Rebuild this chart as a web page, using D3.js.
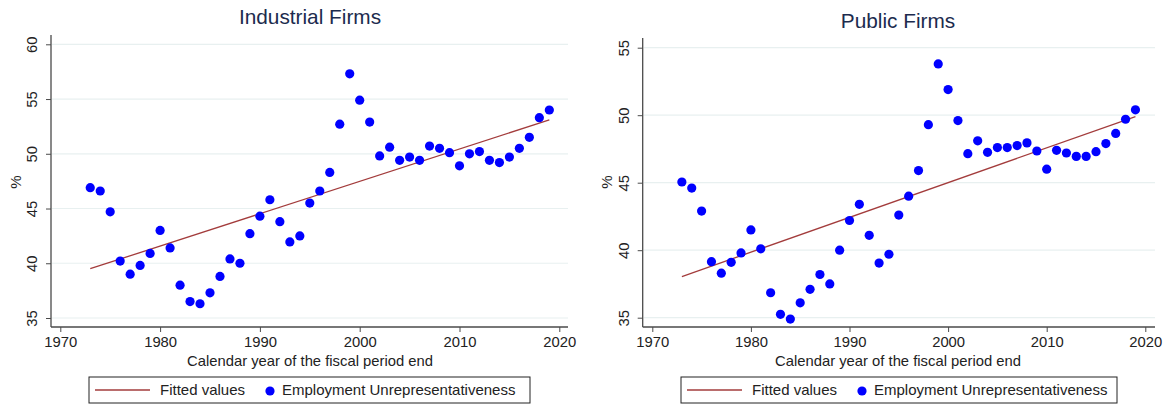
<!DOCTYPE html>
<html lang="en">
<head>
<meta charset="UTF-8">
<script src="https://d3js.org/d3.v7.min.js"></script>
<title>Employment unrepresentativeness</title>
<style>
    body { margin: 0; background: #fff; }
    text { font-family: "Liberation Sans", Arial, sans-serif; }
</style>
</head>
<body>
<div id="chart"></div>
<script>
    // Data
    const years = d3.range(1973, 2020);

    const industrial = [46.9, 46.6, 44.7, 40.2, 39.0, 39.8, 40.9, 43.0, 41.4, 38.0,
        36.5, 36.3, 37.3, 38.8, 40.4, 40.0, 42.7, 44.3, 45.8, 43.8,
        41.95, 42.5, 45.5, 46.6, 48.3, 52.7, 57.3, 54.9, 52.9, 49.8,
        50.6, 49.4, 49.7, 49.4, 50.7, 50.5, 50.1, 48.9, 50.0, 50.2,
        49.4, 49.2, 49.7, 50.5, 51.5, 53.3, 54.0];

    const publicFirms = [45.05, 44.6, 42.9, 39.15, 38.3, 39.1, 39.8, 41.5, 40.1, 36.85,
        35.25, 34.9, 36.1, 37.1, 38.2, 37.5, 40.0, 42.2, 43.4, 41.1,
        39.05, 39.7, 42.6, 44.0, 45.9, 49.3, 53.8, 51.9, 49.6, 47.15,
        48.1, 47.25, 47.6, 47.6, 47.75, 47.95, 47.35, 46.0, 47.4, 47.2,
        46.95, 46.95, 47.3, 47.9, 48.65, 49.7, 50.4];

    // fitted line endpoints [year, value]
    const industrialFit = [[1973, 39.5], [2019, 53.1]];
    const publicFit = [[1973, 38.05], [2019, 49.9]];

    const xTicks = [1970, 1980, 1990, 2000, 2010, 2020];
    const industrialYTicks = [35, 40, 45, 50, 55, 60];
    const publicYTicks = [35, 40, 45, 50, 55];

    const width = 1168, height = 405;

    const svg = d3.select("#chart").append("svg")
        .attr("width", width)
        .attr("height", height);

    const axisColor = "#4a4a4a";
    const gridColor = "#e8f0f0";
    const dotColor = "#0000ff";
    const fitColor = "#a33c3c";

    function drawPanel(cfg) {
        const g = svg.append("g");
        const x = d3.scaleLinear().domain([1970, 2020]).range(cfg.xRange);
        const y = d3.scaleLinear().domain(cfg.yDomain).range(cfg.yRange);

        // gridlines
        g.selectAll("line.grid")
            .data(cfg.yTicks)
            .join("line")
            .attr("class", "grid")
            .attr("x1", cfg.left + 1)
            .attr("x2", cfg.right)
            .attr("y1", d => y(d))
            .attr("y2", d => y(d))
            .attr("stroke", gridColor)
            .attr("stroke-width", 1.2);

        // y axis
        const yAxis = g.append("g")
            .attr("transform", `translate(${cfg.left},0)`)
            .call(d3.axisLeft(y).tickValues(cfg.yTicks).tickSize(5).tickPadding(0));
        yAxis.select(".domain").remove();
        yAxis.selectAll(".tick line").attr("stroke", axisColor);
        yAxis.selectAll(".tick text")
            .attr("x", null).attr("dy", null)
            .attr("transform", "translate(-14,0) rotate(-90)")
            .attr("text-anchor", "middle")
            .attr("fill", "#222")
            .attr("font-size", 14.8)
            .attr("font-family", "Liberation Sans, Arial, sans-serif");
        g.append("line")
            .attr("x1", cfg.left).attr("x2", cfg.left)
            .attr("y1", cfg.top).attr("y2", cfg.bottom)
            .attr("stroke", axisColor).attr("stroke-width", 1.3);

        // x axis
        const xAxis = g.append("g")
            .attr("transform", `translate(0,${cfg.bottom})`)
            .call(d3.axisBottom(x).tickValues(xTicks).tickFormat(d3.format("d")).tickSize(5).tickPadding(4));
        xAxis.select(".domain").remove();
        xAxis.selectAll(".tick line").attr("stroke", axisColor);
        xAxis.selectAll(".tick text")
            .attr("fill", "#222")
            .attr("font-size", 14.8)
            .attr("font-family", "Liberation Sans, Arial, sans-serif");
        g.append("line")
            .attr("x1", cfg.left).attr("x2", cfg.right)
            .attr("y1", cfg.bottom).attr("y2", cfg.bottom)
            .attr("stroke", axisColor).attr("stroke-width", 1.3);

        // fitted line
        g.append("path")
            .datum(cfg.fit)
            .attr("d", d3.line().x(d => x(d[0])).y(d => y(d[1])))
            .attr("fill", "none")
            .attr("stroke", fitColor)
            .attr("stroke-width", 1.3);

        // dots
        g.selectAll("circle.dot")
            .data(years.map((yr, i) => ({ yr, v: cfg.values[i] })))
            .join("circle")
            .attr("class", "dot")
            .attr("cx", d => x(d.yr))
            .attr("cy", d => y(d.v))
            .attr("r", 4.6)
            .attr("fill", dotColor);

        // title
        g.append("text")
            .attr("x", cfg.titleX)
            .attr("y", cfg.titleY)
            .attr("text-anchor", "middle")
            .attr("font-size", 20.8)
            .attr("fill", "#1c2b4e")
            .text(cfg.title);

        // axis titles
        g.append("text")
            .attr("x", cfg.titleX)
            .attr("y", 365.5)
            .attr("text-anchor", "middle")
            .attr("font-size", 14.8)
            .attr("fill", "#222")
            .text("Calendar year of the fiscal period end");

        g.append("text")
            .attr("transform", `translate(${cfg.pctX},182) rotate(-90)`)
            .attr("text-anchor", "middle")
            .attr("font-size", 15)
            .attr("fill", "#222")
            .text("%");

        // legend
        const lg = g.append("g").attr("transform", `translate(${cfg.legendX},377)`);
        lg.append("rect")
            .attr("width", cfg.legendW).attr("height", 26)
            .attr("fill", "#fff")
            .attr("stroke", "#222")
            .attr("stroke-width", 1);
        lg.append("line")
            .attr("x1", 6).attr("x2", 61)
            .attr("y1", 13).attr("y2", 13)
            .attr("stroke", fitColor).attr("stroke-width", 1.3);
        lg.append("text")
            .attr("x", 71).attr("y", 17.5)
            .attr("font-size", 15)
            .attr("fill", "#222")
            .text("Fitted values");
        lg.append("circle")
            .attr("cx", 181).attr("cy", 14)
            .attr("r", 4.6)
            .attr("fill", dotColor);
        lg.append("text")
            .attr("x", 193).attr("y", 17.5)
            .attr("font-size", 15)
            .attr("fill", "#222")
            .text("Employment Unrepresentativeness");
    }

    drawPanel({
        title: "Industrial Firms",
        values: industrial,
        fit: industrialFit,
        yTicks: industrialYTicks,
        yDomain: [35, 60],
        yRange: [318, 44.3],
        xRange: [60.3, 559.3],
        left: 51, right: 568, top: 35, bottom: 327,
        titleX: 310, titleY: 24,
        pctX: 21,
        legendX: 89, legendW: 441
    });

    drawPanel({
        title: "Public Firms",
        values: publicFirms,
        fit: publicFit,
        yTicks: publicYTicks,
        yDomain: [35, 55],
        yRange: [317.7, 47.7],
        xRange: [652.3, 1145.3],
        left: 642.7, right: 1155, top: 38, bottom: 327,
        titleX: 898, titleY: 28,
        pctX: 612,
        legendX: 681, legendW: 436
    });
</script>
</body>
</html>
